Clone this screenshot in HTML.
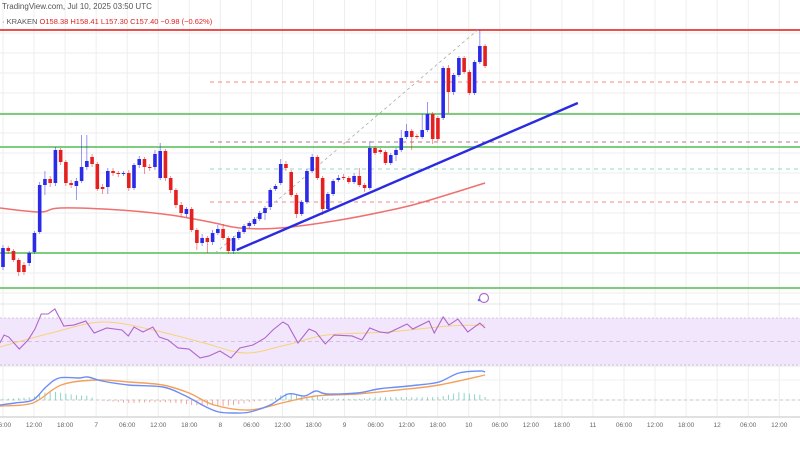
<!DOCTYPE html>
<html><head><meta charset="utf-8">
<style>
html,body{margin:0;padding:0;background:#fff;width:800px;height:450px;overflow:hidden}
svg{display:block;font-family:"Liberation Sans",sans-serif}
</style></head>
<body>
<svg id="chart" width="800" height="450" viewBox="0 0 800 450" xmlns="http://www.w3.org/2000/svg">
<g id="grid"></g>
<g id="levels"></g>
<g id="candles"></g>
<g id="rsi"></g>
<g id="macd"></g>
<g id="axis"></g>
<text x="2" y="9" font-size="8" fill="#555">TradingView.com, Jul 10, 2025 03:50 UTC</text>
<text x="2" y="24" font-size="7.5" fill="#555">· KRAKEN <tspan fill="#d22">O158.38</tspan> <tspan fill="#d22">H158.41</tspan> <tspan fill="#d22">L157.30</tspan> <tspan fill="#d22">C157.40</tspan> <tspan fill="#d22">−0.98 (−0.62%)</tspan></text>
<circle cx="484" cy="298" r="4.5" fill="none" stroke="#b06cd0" stroke-width="1.2"/>
<circle cx="479" cy="300" r="1.3" fill="#6a6aff"/>
</svg>
<script>
const opens=[136.3,138.2,137.9,137.0,136.5,136.7,137.8,139.8,144.5,145.1,144.7,148.0,146.8,144.7,144.4,144.9,146.3,147.3,146.6,144.3,144.3,145.9,145.7,145.6,145.7,144.2,146.5,147.1,146.3,146.3,145.2,147.9,145.2,144.0,142.5,141.6,142.1,140.0,138.7,139.2,138.8,139.7,140.1,139.2,137.9,139.2,139.8,140.4,140.6,141.1,141.7,142.3,144.1,144.7,146.6,145.8,143.5,141.6,142.8,145.9,147.3,145.2,142.1,143.6,145.0,145.3,145.2,144.8,145.4,144.5,144.2,148.2,148.0,147.8,146.7,147.5,148.0,149.3,149.9,149.4,149.3,150.0,151.6,151.2,151.2,156.2,153.8,155.5,157.2,155.8,153.7,156.8,158.4];
const closes=[138.2,137.9,137.0,135.8,135.8,137.7,139.7,144.5,145.1,144.7,148.0,146.8,144.7,144.5,144.9,146.3,146.9,146.6,144.1,144.1,145.9,145.7,145.6,145.7,144.2,146.5,147.1,146.3,146.2,147.6,147.9,145.2,144.0,142.5,141.7,142.1,140.0,138.7,139.2,138.8,139.7,140.1,139.2,137.9,139.2,139.8,140.4,140.7,141.1,141.7,142.2,144.0,144.4,146.6,146.2,143.5,141.6,142.8,145.9,147.3,145.2,142.1,143.6,144.9,145.2,145.2,144.8,145.4,144.5,144.2,148.2,147.7,147.8,146.7,147.5,148.0,149.2,149.9,149.3,149.3,150.0,151.6,149.1,149.1,156.2,153.8,155.5,157.2,155.8,153.7,156.8,158.4,156.4];
const highs=[138.5,138.4,138.1,137.2,136.8,137.9,139.9,144.8,145.9,145.4,148.3,148.2,147.0,145.0,145.2,149.5,149.5,147.6,146.8,144.6,146.2,146.2,145.9,145.9,146.0,146.7,147.4,147.3,146.6,148.0,148.7,148.1,145.4,144.2,142.8,142.3,142.3,140.2,139.6,139.4,140.0,140.5,140.6,139.4,139.4,140.0,140.6,140.9,141.3,141.9,142.4,144.2,144.6,147.1,146.9,146.0,143.7,143.0,146.1,147.6,147.5,145.4,143.8,145.1,145.5,145.6,145.4,145.7,146.2,144.7,148.9,148.4,148.2,148.0,147.7,148.2,150.0,150.6,150.1,149.6,151.6,152.8,151.8,151.4,156.4,156.5,155.7,157.4,157.4,156.0,157.0,160.0,158.6];
const lows=[136.0,137.6,136.8,135.4,135.5,136.4,137.6,139.6,143.5,144.3,144.4,146.5,144.4,144.2,143.0,144.7,146.0,146.3,143.9,143.6,143.6,145.4,145.3,145.4,143.9,144.0,146.2,145.6,145.9,146.0,145.0,144.9,143.7,142.2,141.3,141.3,139.8,138.0,138.4,137.7,138.5,139.5,139.0,137.6,137.6,139.0,139.6,140.2,140.4,140.9,141.0,142.0,143.9,144.5,145.9,143.3,141.2,141.4,142.6,145.7,145.0,141.5,141.9,143.4,144.8,145.0,144.6,144.6,144.3,143.8,144.0,147.5,147.6,146.5,146.5,146.9,147.8,149.1,148.0,149.1,149.1,149.8,148.6,148.9,151.0,151.7,153.5,155.3,155.6,153.5,153.5,156.6,156.2];
const emaIdx=[-0.6,7.1,10.9,22.3,31.9,39.5,45.2,52.9,64.3,75.8,81.5,92];
const emaVals=[142.2,141.8,142.2,142.0,141.5,140.8,140.2,140.2,141.0,142.2,143.0,144.7];
const rsiIdx=[-0.6,0.2,1.1,3.1,4.8,6.1,7.3,8.6,9.9,11.6,13.5,15.8,17.4,19.8,22.7,23.9,25,26.7,28.6,29.8,31.5,33.4,35.5,37.6,39.3,41.4,43.5,45.2,47.7,50,51.5,53.4,54.4,56.3,58.4,59.7,61.5,63.2,66.6,68.5,70,71.9,73.5,77.1,78.2,81.3,82.3,84,85.1,86.8,88.7,91,92];
const rsiVals=[48.7,55.5,53.8,43.6,51.3,60.6,73.4,73.4,77.7,63.2,64.0,67.4,57.2,61.5,59.8,54.7,62.3,58.1,62.3,53.8,51.3,44.5,43.6,36.0,37.7,41.9,36.0,44.5,47.0,53.0,59.8,66.6,64.0,48.7,60.6,58.1,47.9,55.5,54.7,51.3,61.5,58.1,57.2,64.9,60.6,67.4,57.2,70.9,64.0,69.1,58.1,65.7,61.5];
const rsiMaIdx=[-0.6,9.2,18.9,28.6,38.4,46.2,54,61.8,73.5,85.1,92];
const rsiMaVals=[45.3,57.2,66.6,59.8,48.7,40.2,47.0,55.5,58.1,63.2,64.0];
const macdIdx=[-0.6,2.3,5.7,8.2,10.7,14.5,16.2,18.9,23.9,30.5,34.5,38.4,41.2,44.3,47.1,51,54.4,57.5,59.7,61.8,67.6,71.6,75.4,79.2,83.2,87.0,91,92];
const macdVals=[-0.5,-0.3,0,1.3,2.2,2.2,2.3,1.9,1.5,1.3,0.5,-0.6,-1.2,-1.3,-1.2,-0.5,0.6,0.4,0.9,0.6,0.7,1.1,1.3,1.5,1.8,2.7,2.9,2.8];
const sigIdx=[-0.6,5.7,11.1,17.9,23.9,30.5,35.5,40.3,47.1,54,59.7,67.6,75.4,83.2,92];
const sigVals=[-0.6,-0.3,1.5,2.0,1.8,1.5,0.7,-0.5,-1.0,-0.2,0.4,0.6,1.0,1.5,2.5];
const timeLabels=["06:00","12:00","18:00","7","06:00","12:00","18:00","8","06:00","12:00","18:00","9","06:00","12:00","18:00","10","06:00","12:00","18:00","11","06:00","12:00","18:00","12","06:00","12:00"];
const solidLevels=[{p:160.0,c:"#e53935"},{p:151.6,c:"#6cc46c"},{p:148.3,c:"#6cc46c"},{p:137.7,c:"#6cc46c"},{p:134.2,c:"#6cc46c"}];
const dashLevels=[{p:154.8,c:"#f08a8a"},{p:148.8,c:"#b07a8a"},{p:146.1,c:"#8fd8c8"},{p:142.8,c:"#f08a8a"},{p:137.7,c:"#8fd8c8"}];
const trendFrom={i:44.6,p:138.0}, trendTo={i:109.7,p:152.7};
const fibFrom={i:40.5,p:137.7}, fibTo={i:90.6,p:160.0};

const NS="http://www.w3.org/2000/svg";
const X=i=>3+i*5.24;
const Y=p=>(163-p)*10;
const RY=v=>318+(70-v)*47/40;
const MY=v=>400-v*10;
function mk(parent,tag,attrs){const e=document.createElementNS(NS,tag);for(const k in attrs)e.setAttribute(k,attrs[k]);document.getElementById(parent).appendChild(e);return e;}
function smooth(pts){let d=`M${pts[0][0]},${pts[0][1]}`;for(let i=0;i<pts.length-1;i++){const p0=pts[i-1]||pts[i],p1=pts[i],p2=pts[i+1],p3=pts[i+2]||p2;d+=` C${p1[0]+(p2[0]-p0[0])/6},${p1[1]+(p2[1]-p0[1])/6} ${p2[0]-(p3[0]-p1[0])/6},${p2[1]-(p3[1]-p1[1])/6} ${p2[0]},${p2[1]}`;}return d;}
function interp(ix,vs,i){if(i<=ix[0])return vs[0];for(let k=0;k<ix.length-1;k++){if(i<=ix[k+1]){const t=(i-ix[k])/(ix[k+1]-ix[k]);return vs[k]+t*(vs[k+1]-vs[k]);}}return vs[vs.length-1];}

for(let y=33;y<300;y+=20){const l=mk('grid','line',{x1:0,x2:800,y1:y,y2:y,stroke:'#eeeeee','stroke-width':1});

}
[330,353,380,400].forEach(y=>{const l=mk('grid','line',{x1:0,x2:800,y1:y,y2:y,stroke:'#f0f0f0','stroke-width':1});

});
timeLabels.forEach((t,k)=>{const x=3+k*31.05;const l=mk('grid','line',{x1:x,x2:x,y1:0,y2:417,stroke:'#eeeeee','stroke-width':1});


const tx=mk('axis','text',{x:x,y:427,'font-size':6.5,fill:'#666','text-anchor':'middle'});tx.textContent=t;

});
[304,366].forEach(y=>{const l=mk('grid','line',{x1:0,x2:800,y1:y,y2:y,stroke:'#e4e4e4','stroke-width':1});

});
const ax=mk('axis','line',{x1:0,x2:800,y1:417,y2:417,stroke:'#cfcfcf','stroke-width':1.2});



dashLevels.forEach(d=>{const l=mk('levels','line',{x1:210,x2:800,y1:Y(d.p),y2:Y(d.p),stroke:d.c,'stroke-width':1,'stroke-dasharray':'4,4'});

});
solidLevels.forEach(d=>{const l=mk('levels','line',{x1:0,x2:800,y1:Y(d.p),y2:Y(d.p),stroke:d.c,'stroke-width':1.8});

});
const fib=mk('levels','line',{x1:X(fibFrom.i),y1:Y(fibFrom.p),x2:X(fibTo.i),y2:Y(fibTo.p),stroke:'#aaa','stroke-width':0.8,'stroke-dasharray':'3,3'});


const ema=mk('levels','path',{d:smooth(emaIdx.map((i,k)=>[X(i),Y(emaVals[k])])),fill:'none',stroke:'#f07070','stroke-width':1.5});



opens.forEach((o,i)=>{const c=closes[i];const up=c>=o;const col=up?'#2a2ae8':'#e52020';const x=X(i);
const w=mk('candles','line',{x1:x,x2:x,y1:Y(highs[i]),y2:Y(lows[i]),stroke:col,'stroke-width':0.8,opacity:0.6});


const top=Y(Math.max(o,c)),bot=Y(Math.min(o,c));
const r=mk('candles','rect',{x:x-1.8,y:top,width:3.6,height:Math.max(1,bot-top),fill:col});

});
const tl=mk('candles','line',{x1:X(trendFrom.i),y1:Y(trendFrom.p),x2:X(trendTo.i),y2:Y(trendTo.p),stroke:'#2a2ae0','stroke-width':2.4});



const band=mk('rsi','rect',{x:0,y:RY(70),width:800,height:RY(30)-RY(70),fill:'#f2e6fc'});


[70,30].forEach(v=>{const l=mk('rsi','line',{x1:0,x2:800,y1:RY(v),y2:RY(v),stroke:'#c9b8d6','stroke-width':0.8,'stroke-dasharray':'2,2'});

});
const mid=mk('rsi','line',{x1:0,x2:800,y1:RY(50),y2:RY(50),stroke:'#c9b8d6','stroke-width':0.8,'stroke-dasharray':'4,3'});


const rma=mk('rsi','path',{d:smooth(rsiMaIdx.map((i,k)=>[X(i),RY(rsiMaVals[k])])),fill:'none',stroke:'#f7d27a','stroke-width':1});


const rl=mk('rsi','polyline',{points:rsiIdx.map((i,k)=>X(i)+','+RY(rsiVals[k])).join(' '),fill:'none',stroke:'#b065cc','stroke-width':1.1});



const zl=mk('macd','line',{x1:0,x2:800,y1:MY(0),y2:MY(0),stroke:'#bbb','stroke-width':0.7,'stroke-dasharray':'3,3'});


opens.forEach((o,i)=>{const h=(interp(macdIdx,macdVals,i)-interp(sigIdx,sigVals,i))*1.0;const y0=MY(0),y1=MY(h);
const b=mk('macd','line',{x1:X(i),x2:X(i),y1:y0,y2:y1,stroke:h>=0?'#7fd0c4':'#f29a9a','stroke-width':0.9});

});
const sl=mk('macd','path',{d:smooth(sigIdx.map((i,k)=>[X(i),MY(sigVals[k])])),fill:'none',stroke:'#f5a05a','stroke-width':1.4});


const ml=mk('macd','path',{d:smooth(macdIdx.map((i,k)=>[X(i),MY(macdVals[k])])),fill:'none',stroke:'#6d8df5','stroke-width':1.4});


</script>
</body></html>
